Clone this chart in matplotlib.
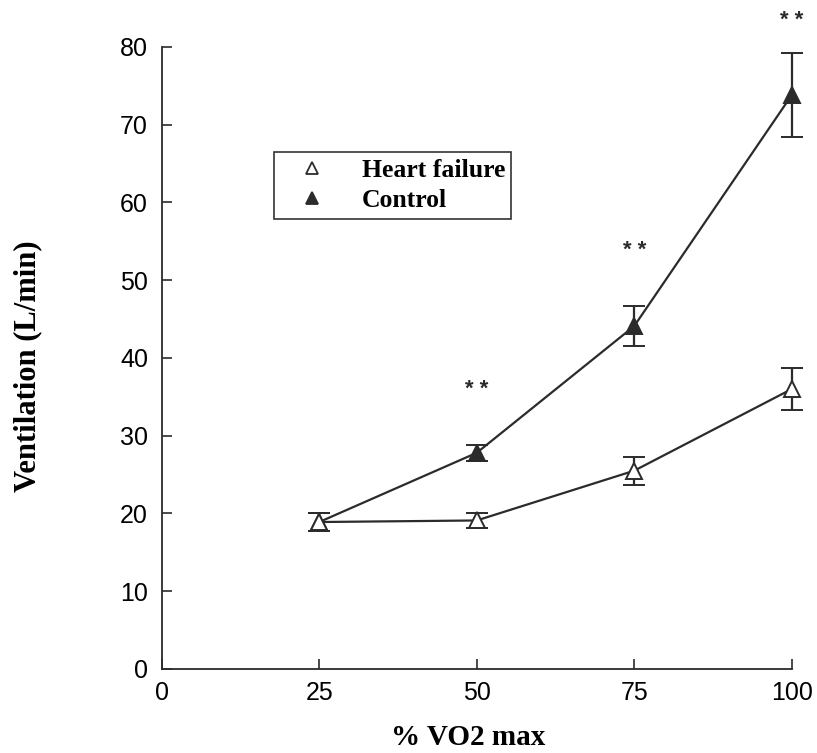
import matplotlib.pyplot as plt
from matplotlib.lines import Line2D
import numpy as np

# % VO2 max levels
vo2 = [25, 50, 75, 100]

# ventilation (L/min), mean and error
hf_mean = [18.9, 19.1, 25.5, 36.0]
hf_err = [1.2, 1.0, 1.8, 2.7]
ctrl_mean = [18.9, 27.8, 44.1, 73.8]
ctrl_err = [1.2, 1.0, 2.6, 5.4]

# significance marks
sig_x = [50, 75, 100]
sig_y = [36.0, 53.8, 83.4]

col = "#2b2b2b"
plt.rcParams["font.family"] = ["Liberation Sans", "DejaVu Sans"]

fig = plt.figure(figsize=(8.17, 7.53), dpi=100)
ax = fig.add_axes([0.198, 0.1116, 0.771, 0.826])

ctrl = ax.errorbar(vo2, ctrl_mean, yerr=ctrl_err, color=col, lw=1.6, marker="^",
                   ms=11, mfc=col, mec=col, mew=1.4, capsize=8, elinewidth=1.6,
                   capthick=1.6, zorder=3)
hf = ax.errorbar(vo2, hf_mean, yerr=hf_err, color=col, lw=1.6, marker="^",
                 ms=11, mfc="white", mec=col, mew=1.4, capsize=8, elinewidth=1.6,
                 capthick=1.6, zorder=4)
for cont in (ctrl, hf):
    for art in cont.get_children():
        art.set_clip_on(False)

for x, y in zip(sig_x, sig_y):
    ax.text(x, y, "* *", ha="center", va="center", fontsize=16,
            fontweight="bold", color=col, clip_on=False)

ax.set_xlim(0, 100)
ax.set_ylim(0, 80)
ax.set_xticks([0, 25, 50, 75, 100])
ax.set_yticks(np.arange(0, 81, 10))
ax.tick_params(direction="in", length=7, width=1.2, labelsize=18, colors=col,
               labelcolor="black")
ax.tick_params(axis="x", pad=9)
ax.tick_params(axis="y", pad=10)
for s in ["top", "right"]:
    ax.spines[s].set_visible(False)
for s in ["left", "bottom"]:
    ax.spines[s].set_color(col)
    ax.spines[s].set_linewidth(1.3)

ax.set_xlabel("% VO2 max", family="Liberation Serif", fontweight="bold",
              fontsize=21)
ax.set_ylabel("Ventilation (L/min)", family="Liberation Serif",
              fontweight="bold", fontsize=22)
ax.xaxis.set_label_coords(0.486, -0.088)
ax.yaxis.set_label_coords(-0.19, 0.487)

handles = [
    Line2D([], [], ls="none", marker="^", ms=9, mfc="white", mec=col, mew=1.3),
    Line2D([], [], ls="none", marker="^", ms=9, mfc=col, mec=col, mew=1.3),
]
leg = ax.legend(handles, ["Heart failure", "Control"], loc="upper left",
                bbox_to_anchor=(0.178, 0.831), borderaxespad=0,
                prop={"family": "Liberation Serif", "weight": "bold", "size": 18.5},
                frameon=True, fancybox=False, edgecolor="black",
                handlelength=2.5, handletextpad=0.66, borderpad=0.25,
                labelspacing=0.3)
leg.get_frame().set_linewidth(1.2)

fig.savefig("out.png", dpi=100)
